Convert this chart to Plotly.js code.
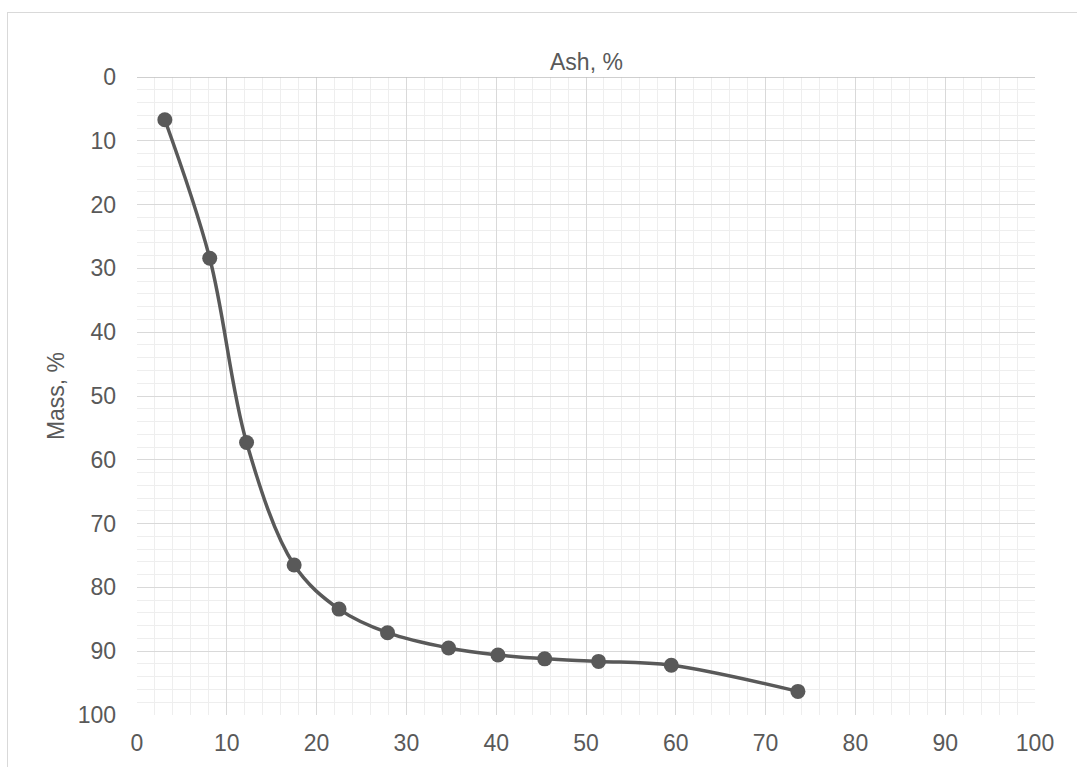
<!DOCTYPE html>
<html>
<head>
<meta charset="utf-8">
<script src="https://cdn.plot.ly/plotly-3.0.1.min.js"></script>
<style>
  html, body { margin: 0; padding: 0; background: #ffffff; overflow: hidden; }
  #frame {
    position: absolute; left: 7px; top: 12px; width: 2000px; height: 2000px;
    border: 1px solid #d9d9d9; box-sizing: border-box;
  }
  #chart { position: absolute; left: 0; top: 0; width: 1077px; height: 767px; }
</style>
</head>
<body>
<div id="frame"></div>
<div id="chart"></div>
<script>
// Washability curve: cumulative mass vs. ash content
const ashPct  = [3.1, 8.1, 12.2, 17.5, 22.5, 27.9, 34.7, 40.2, 45.4, 51.4, 59.5, 73.6];
const massPct = [6.7, 28.4, 57.3, 76.5, 83.4, 87.1, 89.5, 90.6, 91.2, 91.6, 92.2, 96.3];

const xTitle = 'Ash, %';
const yTitle = 'Mass, %';

const ink = '#595959';
const fontFamily = '"Liberation Sans", Arial, sans-serif';
const fontSize = 23;

const trace = {
  x: ashPct,
  y: massPct,
  type: 'scatter',
  mode: 'lines+markers',
  line: { color: ink, width: 3.5, shape: 'spline', smoothing: 1 },
  marker: { color: ink, size: 15 },
  hoverinfo: 'x+y',
  showlegend: false
};

const layout = {
  width: 1077,
  height: 767,
  margin: { l: 137, r: 42, t: 77, b: 52 },
  paper_bgcolor: 'rgba(0,0,0,0)',
  plot_bgcolor: '#ffffff',
  font: { family: fontFamily, color: ink, size: fontSize },
  xaxis: {
    range: [0, 100],
    dtick: 10,
    tick0: 0,
    showgrid: true,
    gridcolor: '#d9d9d9',
    gridwidth: 1,
    minor: { dtick: 2, showgrid: true, gridcolor: '#eeeeee', gridwidth: 1 },
    zeroline: false,
    showline: false,
    ticks: '',
    ticklabelstandoff: 12,
    tickfont: { family: fontFamily, size: fontSize, color: ink }
  },
  yaxis: {
    range: [100, 0],
    dtick: 10,
    tick0: 0,
    showgrid: true,
    gridcolor: '#d9d9d9',
    gridwidth: 1,
    minor: { dtick: 2, showgrid: true, gridcolor: '#eeeeee', gridwidth: 1 },
    zeroline: false,
    showline: false,
    ticks: '',
    ticklabelstandoff: 20,
    tickfont: { family: fontFamily, size: fontSize, color: ink },
    title: { text: yTitle, standoff: 6, font: { family: fontFamily, size: fontSize, color: ink } }
  },
  // horizontal axis crosses the reversed vertical axis at 0, i.e. along the top edge
  shapes: [{
    type: 'line', xref: 'paper', yref: 'y',
    x0: 0, x1: 1, y0: 0, y1: 0,
    line: { color: '#bfbfbf', width: 1.5 }
  }],
  annotations: [{
    text: xTitle,
    xref: 'paper', yref: 'paper',
    x: 0.5, y: 1,
    xanchor: 'center', yanchor: 'bottom',
    yshift: 1,
    showarrow: false,
    borderpad: 0,
    font: { family: fontFamily, size: fontSize, color: ink }
  }]
};

Plotly.newPlot('chart', [trace], layout, { displayModeBar: false, staticPlot: true });
</script>
</body>
</html>
